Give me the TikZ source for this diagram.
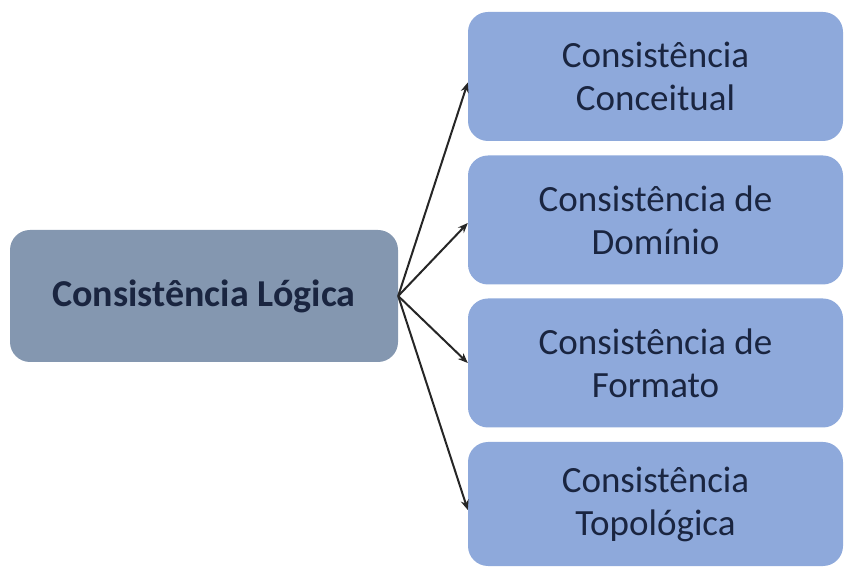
\documentclass[tikz,border=0pt]{standalone}
\usepackage{fontspec}
\setmainfont{Carlito}
\usetikzlibrary{arrows.meta}
\definecolor{mainbox}{HTML}{8497B0}
\definecolor{subbox}{HTML}{8EA9DB}
\definecolor{txt}{HTML}{1A2540}
\tikzset{
  mainnode/.style={fill=mainbox, rounded corners=20pt, minimum width=388pt, minimum height=132pt, inner sep=0pt, text=txt, font=\fontsize{38}{44}\selectfont\bfseries, align=center},
  subnode/.style={fill=subbox, rounded corners=20pt, minimum width=375pt, minimum height=129pt, inner sep=0pt, text=txt, font=\fontsize{37}{43}\selectfont, align=center},
  link/.style={draw=black!85, line width=2pt, -{Stealth[length=10pt,width=8pt]}}
}
\begin{document}
\begin{tikzpicture}[x=1pt,y=1pt]
\useasboundingbox (0,0) rectangle (845,567);
\node[mainnode] (main) at (204,271) {Consistência Lógica};
\node[subnode] (b1) at (655.5,490.5) {Consistência\\Conceitual};
\node[subnode] (b2) at (655.5,347) {Consistência de\\Domínio};
\node[subnode] (b3) at (655.5,204) {Consistência de\\Formato};
\node[subnode, minimum height=124pt] (b4) at (655.5,63) {Consistência\\Topológica};
\draw[link] (main.east) -- ([yshift=-6pt]b1.west);
\draw[link] (main.east) -- ([yshift=-3pt]b2.west);
\draw[link] (main.east) -- (b3.west);
\draw[link] (main.east) -- ([yshift=-6pt]b4.west);
\end{tikzpicture}
\end{document}
